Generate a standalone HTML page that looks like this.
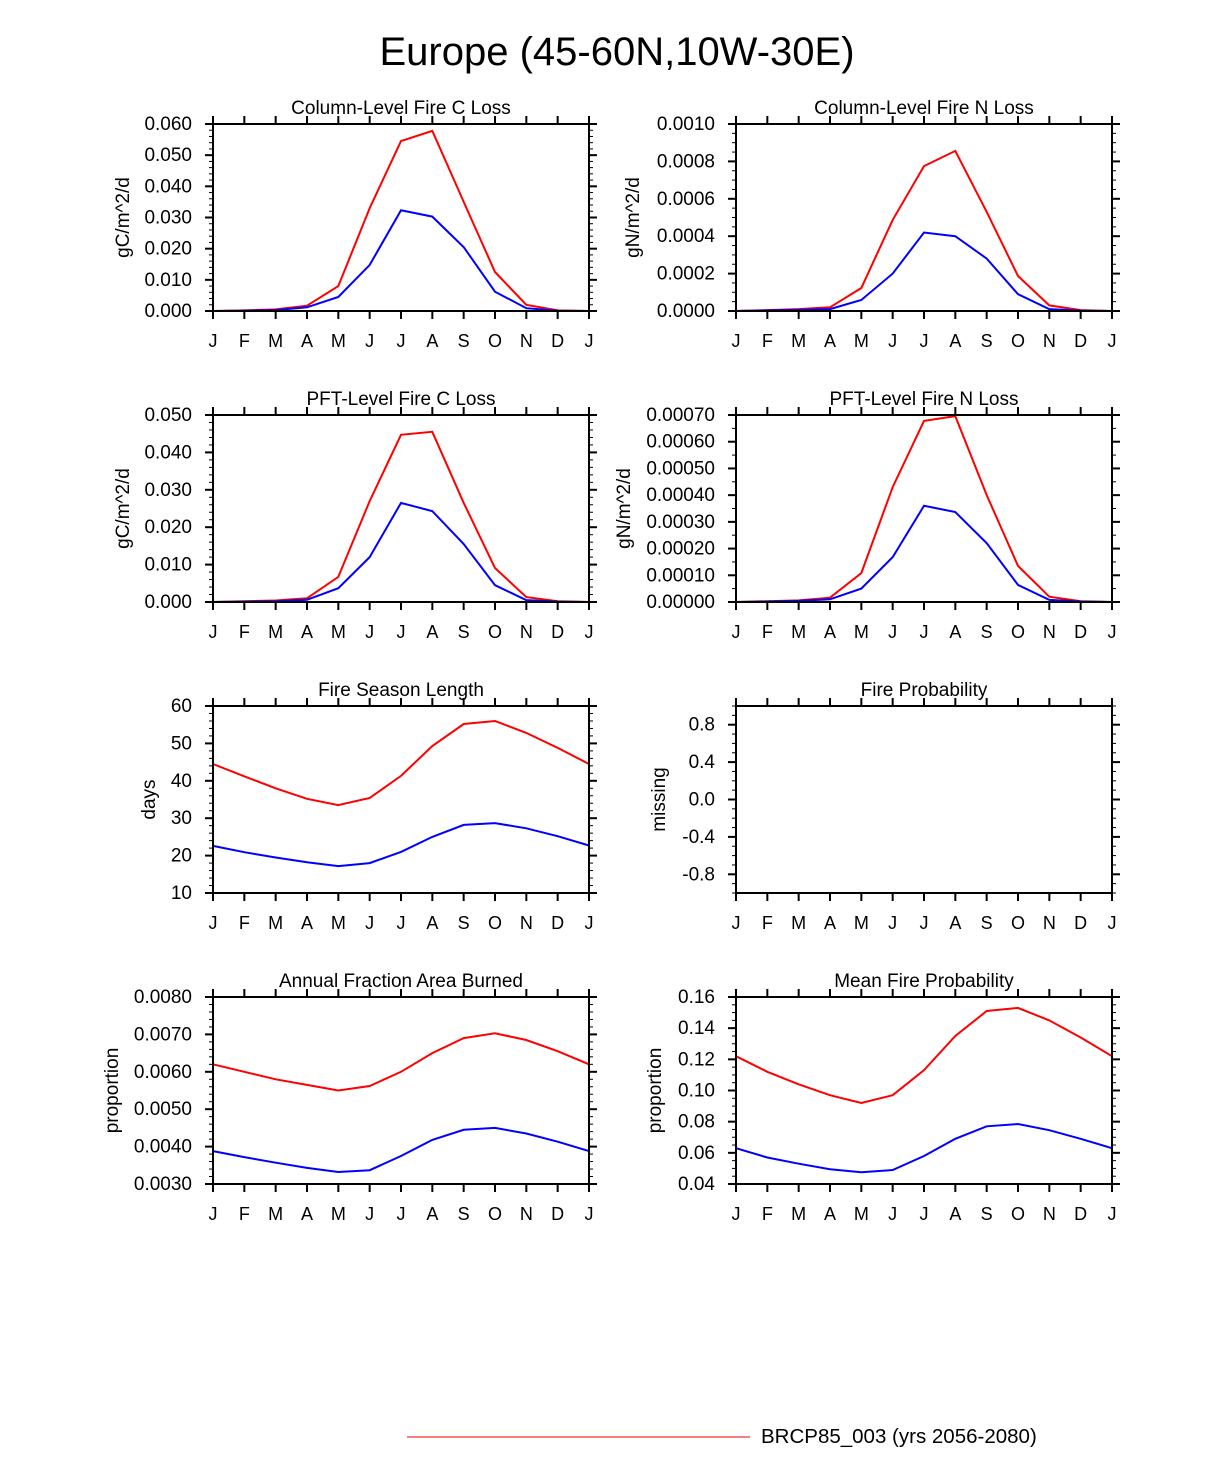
<!DOCTYPE html>
<html><head><meta charset="utf-8"><style>
body{margin:0;background:#fff;}
svg text{font-family:"Liberation Sans",Arial,sans-serif;fill:#000;}
</style></head><body>
<svg id="fig" width="1224" height="1474" viewBox="0 0 1224 1474" xmlns="http://www.w3.org/2000/svg">
<text x="617" y="65" font-size="40" text-anchor="middle">Europe (45-60N,10W-30E)</text>
<line x1="407" y1="1437" x2="750" y2="1437" stroke="#e33" stroke-width="1.3"/>
<text x="761" y="1443" font-size="20.5">BRCP85_003 (yrs 2056-2080)</text>
</svg>
<script>
const months = ["J","F","M","A","M","J","J","A","S","O","N","D","J"];
const colCRed = [0,0.0002,0.0005,0.0017,0.008,0.033,0.0545,0.0578,0.035,0.0125,0.002,0.0002,0];
const colCBlue = [0,0.0001,0.0003,0.0012,0.0045,0.0148,0.0323,0.0303,0.0205,0.0062,0.0009,0.0001,0];
const colNRed = [0,0.000005,0.00001,0.00002,0.000123,0.000487,0.000775,0.000856,0.00053,0.000187,0.00003,0.000005,0];
const colNBlue = [0,0.000003,0.000006,0.00001,0.000059,0.0002,0.00042,0.0004,0.00028,0.00009,0.00001,0.000002,0];
const pftCRed = [0,0.0002,0.0004,0.001,0.0067,0.027,0.0447,0.0455,0.0265,0.0091,0.0013,0.0002,0];
const pftCBlue = [0,0.0001,0.0002,0.0006,0.0037,0.012,0.0265,0.0243,0.0155,0.0045,0.0005,0.0001,0];
const pftNRed = [0,0.000003,0.000006,0.000016,0.000108,0.00043,0.000678,0.000696,0.0004,0.000135,0.00002,0.000003,0];
const pftNBlue = [0,0.000002,0.000004,0.00001,0.00005,0.000168,0.00036,0.000337,0.00022,0.000064,0.000008,0.000002,0];
const seasonRed = [44.5,41.2,38,35.2,33.5,35.4,41.3,49.3,55.2,56,52.8,48.8,44.5];
const seasonBlue = [22.6,20.9,19.5,18.2,17.2,18,21,25,28.2,28.7,27.3,25.2,22.7];
const fracRed = [0.0062,0.006,0.0058,0.00565,0.0055,0.00562,0.006,0.0065,0.0069,0.00703,0.00685,0.00655,0.0062];
const fracBlue = [0.00388,0.00372,0.00357,0.00343,0.00332,0.00337,0.00375,0.00418,0.00445,0.0045,0.00435,0.00413,0.00388];
const probRed = [0.122,0.112,0.104,0.097,0.092,0.097,0.113,0.135,0.151,0.153,0.145,0.134,0.122];
const probBlue = [0.063,0.057,0.053,0.0495,0.0475,0.049,0.058,0.069,0.077,0.0785,0.0745,0.069,0.063];
const tickC1 = ["0.000","0.010","0.020","0.030","0.040","0.050","0.060"];
const tickN1 = ["0.0000","0.0002","0.0004","0.0006","0.0008","0.0010"];
const tickC2 = ["0.000","0.010","0.020","0.030","0.040","0.050"];
const tickN2 = ["0.00000","0.00010","0.00020","0.00030","0.00040","0.00050","0.00060","0.00070"];
const tickSeason = ["10","20","30","40","50","60"];
const tickProb = ["-0.8","-0.4","0.0","0.4","0.8"];
const tickFrac = ["0.0030","0.0040","0.0050","0.0060","0.0070","0.0080"];
const tickMean = ["0.04","0.06","0.08","0.10","0.12","0.14","0.16"];

const NS="http://www.w3.org/2000/svg";
const svg=document.getElementById('fig');
function mk(tag,attrs,parent){const e=document.createElementNS(NS,tag);for(const k in attrs)e.setAttribute(k,attrs[k]);(parent||svg).appendChild(e);return e;}

const panels=[
 {name:"column-fire-c-loss",title:"Column-Level Fire C Loss",yt:"gC/m^2/d",ytx:129,x0:213,y0:124,min:0,max:0.06,ticks:tickC1,minor:5,red:colCRed,blue:colCBlue},
 {name:"column-fire-n-loss",title:"Column-Level Fire N Loss",yt:"gN/m^2/d",ytx:639,x0:736,y0:124,min:0,max:0.001,ticks:tickN1,minor:4,red:colNRed,blue:colNBlue},
 {name:"pft-fire-c-loss",title:"PFT-Level Fire C Loss",yt:"gC/m^2/d",ytx:129,x0:213,y0:415,min:0,max:0.05,ticks:tickC2,minor:5,red:pftCRed,blue:pftCBlue},
 {name:"pft-fire-n-loss",title:"PFT-Level Fire N Loss",yt:"gN/m^2/d",ytx:630,x0:736,y0:415,min:0,max:0.0007,ticks:tickN2,minor:2,red:pftNRed,blue:pftNBlue},
 {name:"fire-season-length",title:"Fire Season Length",yt:"days",ytx:155,x0:213,y0:706,min:10,max:60,ticks:tickSeason,minor:5,red:seasonRed,blue:seasonBlue},
 {name:"fire-probability",title:"Fire Probability",yt:"missing",ytx:665,x0:736,y0:706,min:-1,max:1,ticks:tickProb,minor:4,red:null,blue:null},
 {name:"annual-fraction-area-burned",title:"Annual Fraction Area Burned",yt:"proportion",ytx:118,x0:213,y0:997,min:0.003,max:0.008,ticks:tickFrac,minor:5,red:fracRed,blue:fracBlue},
 {name:"mean-fire-probability",title:"Mean Fire Probability",yt:"proportion",ytx:661,x0:736,y0:997,min:0.04,max:0.16,ticks:tickMean,minor:4,red:probRed,blue:probBlue}
];
const W=376,H=187;
panels.forEach(p=>{
  const g=mk('g',{});
  
  
  const xs=i=>p.x0+i*W/12;
  const ys=v=>p.y0+H-(v-p.min)/(p.max-p.min)*H;
  const t=mk('text',{x:p.x0+W/2,y:p.y0-10,'font-size':19,'text-anchor':'middle'},g);
  t.textContent=p.title;
  
  
  const yt=mk('text',{x:p.ytx,y:p.y0+H/2,'font-size':19,'text-anchor':'middle',transform:`rotate(-90 ${p.ytx} ${p.y0+H/2})`},g);
  yt.textContent=p.yt;
  
  
  months.forEach((m,i)=>{
    const x=xs(i);
    mk('line',{x1:x,x2:x,y1:p.y0+H,y2:p.y0+H+8,stroke:'#000','stroke-width':2},g);
    mk('line',{x1:x,x2:x,y1:p.y0,y2:p.y0-8,stroke:'#000','stroke-width':2},g);
    const l=mk('text',{x:x,y:p.y0+H+36,'font-size':18,'text-anchor':'middle'},g);
    l.textContent=m;
    
    
  });
  const tv=p.ticks.map(Number);
  const step=tv[1]-tv[0];
  const mstep=step/p.minor;
  for(let v=p.min;v<=p.max+1e-12;v+=mstep){
    const y=ys(v);
    mk('line',{x1:p.x0,x2:p.x0-4,y1:y,y2:y,stroke:'#000','stroke-width':1},g);
    mk('line',{x1:p.x0+W,x2:p.x0+W+4,y1:y,y2:y,stroke:'#000','stroke-width':1},g);
  }
  tv.forEach((v,i)=>{
    const y=ys(v);
    mk('line',{x1:p.x0,x2:p.x0-8,y1:y,y2:y,stroke:'#000','stroke-width':2},g);
    mk('line',{x1:p.x0+W,x2:p.x0+W+8,y1:y,y2:y,stroke:'#000','stroke-width':2},g);
    const l=mk('text',{x:p.x0-21,y:y+6,'font-size':19,'text-anchor':'end'},g);
    l.textContent=p.ticks[i];
    
    
  });
  [['red','#f00'],['blue','#00f']].forEach(([k,c])=>{
    if(!p[k])return;
    const pts=p[k].map((v,i)=>xs(i).toFixed(1)+','+ys(v).toFixed(1)).join(' ');
    const pl=mk('polyline',{points:pts,fill:'none',stroke:c,'stroke-width':2},g);
    
    
  });
  const fr=mk('rect',{x:p.x0,y:p.y0,width:W,height:H,fill:'none',stroke:'#000','stroke-width':2},g);
  
  
});
</script>
</body></html>
